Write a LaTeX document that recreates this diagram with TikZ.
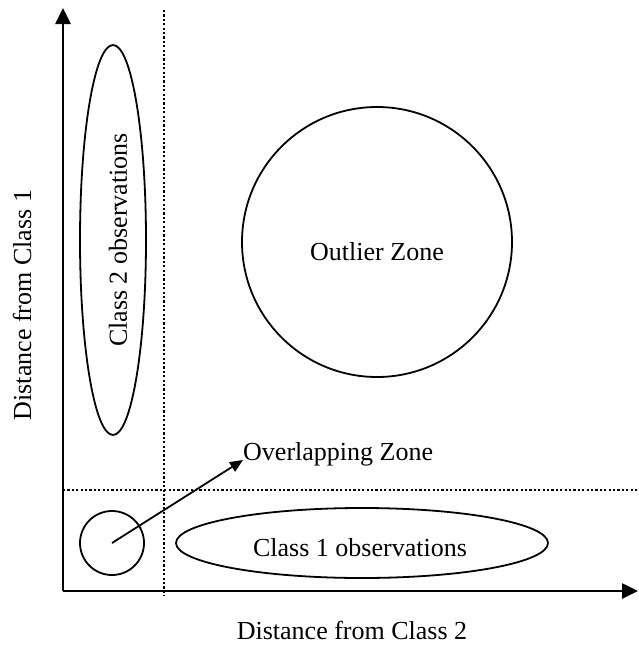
\documentclass[tikz,border=0pt]{standalone}
\usepackage{fontspec}
\setmainfont{Liberation Serif}
\usetikzlibrary{arrows.meta}
\begin{document}
\begin{tikzpicture}[x=1pt,y=-1pt,
  axis/.style={line width=2.6pt,-{Triangle[length=16pt,width=15pt]}},
  guide/.style={line width=2.2pt,dash pattern=on 2.2pt off 2.2pt},
  zone/.style={draw,line width=1.8pt},
  pointer/.style={line width=1.8pt,-{Triangle[length=13pt,width=11pt]}},
  lbl/.style={font=\fontsize{26}{30}\selectfont,inner sep=0pt}]
\useasboundingbox (0,0) rectangle (638,646);
% axes
\coordinate (O) at (63,591);
\coordinate (ytip) at (63,8);
\coordinate (xtip) at (638,591);
\draw[axis] (O) -- (ytip);
\draw[axis] (O) -- (xtip);
% dotted separators
\coordinate (vtop) at (164,10);
\coordinate (vbot) at (164,596);
\coordinate (hl) at (63,490);
\coordinate (hr) at (638,490);
\draw[guide] (vtop) -- (vbot);
\draw[guide] (hl) -- (hr);
% zones
\draw[zone] (113,240) ellipse [x radius=33, y radius=195];
\draw[zone] (377,242) circle [radius=135];
\draw[zone] (362,543) ellipse [x radius=186, y radius=35];
\node[zone,circle,minimum size=64pt,inner sep=0pt] (ov) at (112,543) {};
% labels
\node[lbl,rotate=90] (c2) at (118,240) {Class 2 observations};
\node[lbl] (out) at (377,252) {Outlier Zone};
\node[lbl] (c1) at (360,548) {Class 1 observations};
\node[lbl,anchor=base west] (ovl) at (243,460) {Overlapping Zone};
\node[lbl,rotate=90] (ylab) at (22,305) {Distance from Class 1};
\node[lbl] (xlab) at (352,630) {Distance from Class 2};
% pointer from the overlap circle to its label
\draw[pointer] (ov.center) -- (ovl.base west);
\end{tikzpicture}
\end{document}
